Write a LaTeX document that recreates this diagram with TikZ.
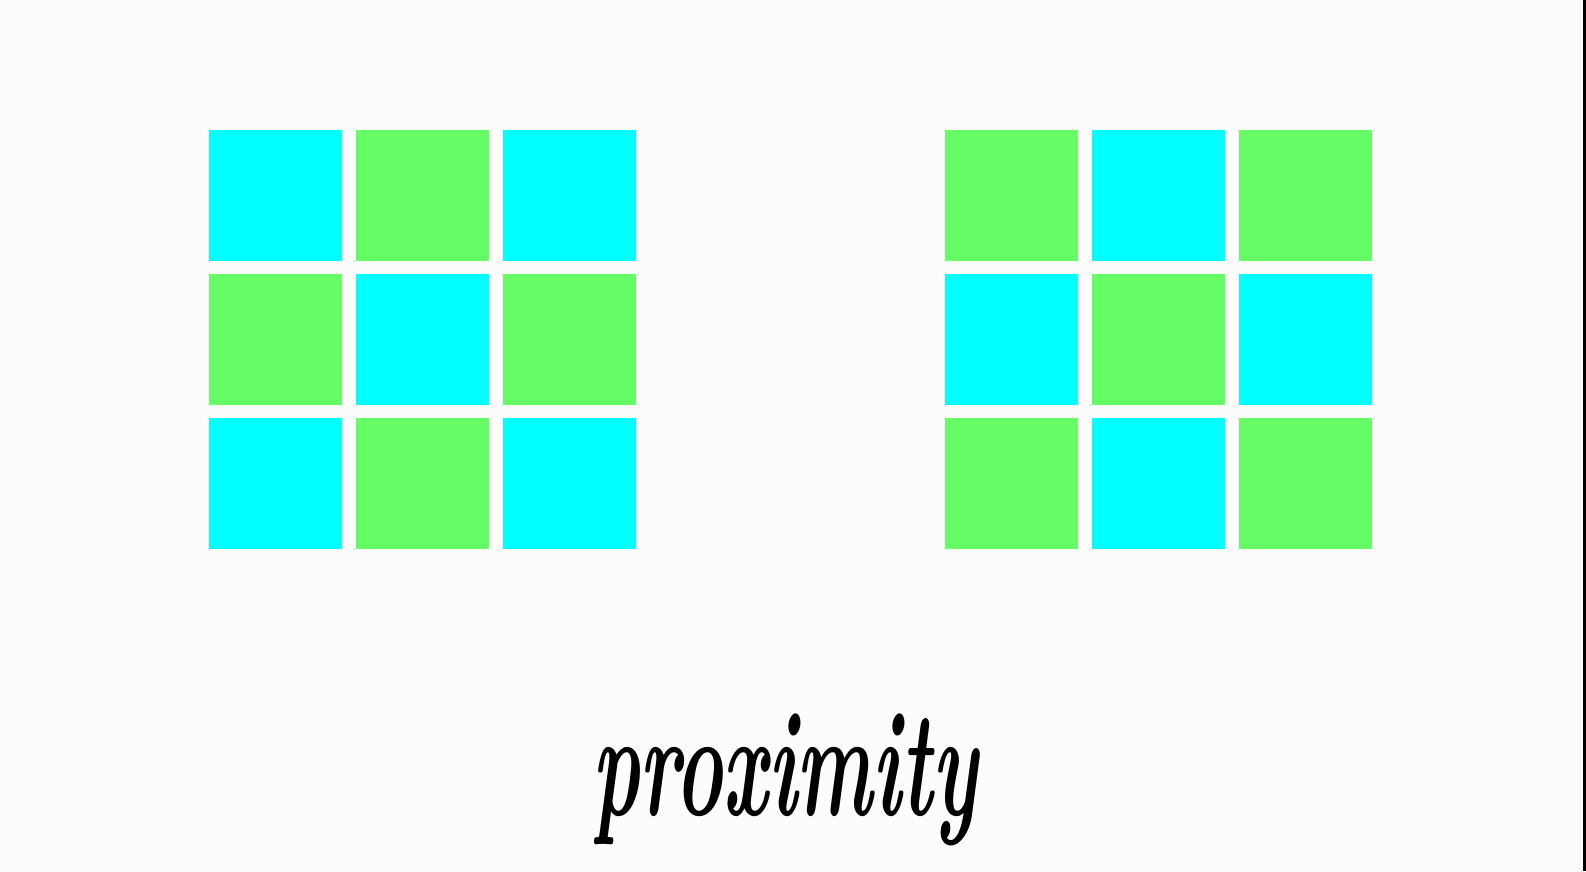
\documentclass[tikz,border=0pt]{standalone}
\usepackage{graphicx}
\definecolor{bgc}{HTML}{FCFDFB}
\definecolor{cyanc}{HTML}{00FFFF}
\definecolor{greenc}{HTML}{66FC66}
\tikzset{
  sq/.style={minimum width=133pt, minimum height=131pt, inner sep=0pt, outer sep=0pt, anchor=north west, draw=none},
  sqc/.style={sq, fill=cyanc},
  sqg/.style={sq, fill=greenc},
}
\begin{document}
\begin{tikzpicture}[x=1pt,y=-1pt]
\fill[bgc] (0,0) rectangle (1586,871);
\useasboundingbox (0,0) rectangle (1586,871);
\fill[black] (1583,0) rectangle (1586,871);
% left grid
\foreach \c/\x in {0/209,1/356,2/503}{
  \foreach \r/\y in {0/130,1/274,2/418}{
    \pgfmathtruncatemacro{\myparity}{mod(\c+\r,2)}
    \ifnum\myparity=0
      \node[sqc] (L\r\c) at (\x,\y) {};
    \else
      \node[sqg] (L\r\c) at (\x,\y) {};
    \fi
  }
}
% right grid
\foreach \c/\x in {0/945,1/1092,2/1239}{
  \foreach \r/\y in {0/130,1/274,2/418}{
    \pgfmathtruncatemacro{\myparity}{mod(\c+\r,2)}
    \ifnum\myparity=0
      \node[sqg] (R\r\c) at (\x,\y) {};
    \else
      \node[sqc] (R\r\c) at (\x,\y) {};
    \fi
  }
}
\node[anchor=north west, inner sep=0pt] (title) at (592,714)
  {\resizebox*{385pt}{132pt}{\bfseries\itshape proximity}};
\end{tikzpicture}
\end{document}
